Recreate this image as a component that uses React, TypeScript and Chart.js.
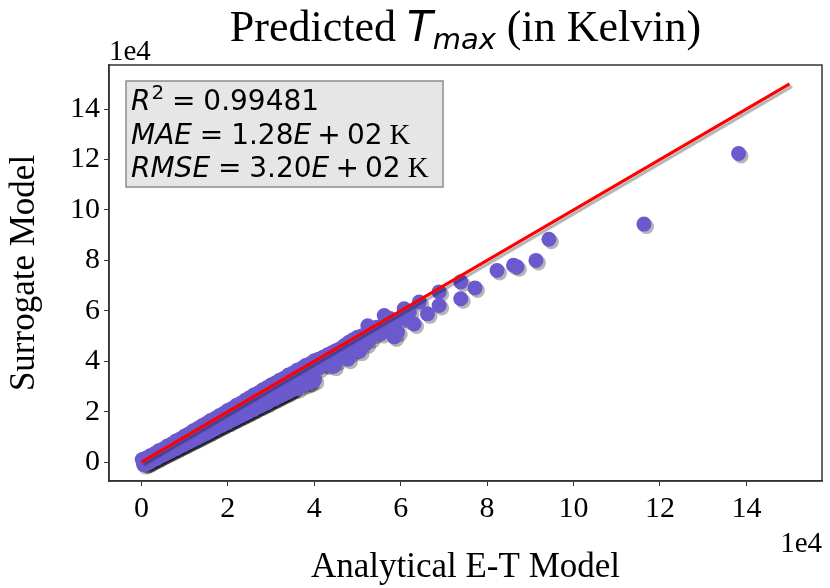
import React, { useEffect, useRef } from "react";
import { Chart, registerables } from "chart.js";

Chart.register(...registerables);

// ---- data (units of 1e4 K) ----
const X_TICKS = [0, 2, 4, 6, 8, 10, 12, 14];
const Y_TICKS = [0, 2, 4, 6, 8, 10, 12, 14];
const AXIS_MIN = -0.75;
const AXIS_MAX = 15.75;

const LINE_X = [0, 15];
const LINE_Y = [0, 15];

// surrogate vs analytical predictions (upper edge of the band)
const UPPER_X = [0.02, 0.1, 0.2, 0.3, 0.4, 0.5, 0.6, 0.7, 0.8, 0.9, 1.0, 1.1, 1.2, 1.3, 1.4, 1.5, 1.6, 1.7, 1.8, 1.9, 2.0, 2.1, 2.2, 2.3, 2.4, 2.5, 2.6, 2.7, 2.8, 2.9, 3.0, 3.1, 3.2, 3.3, 3.4, 3.5, 3.6, 3.7, 3.8, 3.9, 4.0, 4.1, 4.2, 4.3, 4.4, 4.5];
const UPPER_Y = [0.1, 0.15, 0.25, 0.33, 0.45, 0.52, 0.64, 0.72, 0.84, 0.92, 1.03, 1.12, 1.24, 1.33, 1.44, 1.53, 1.65, 1.73, 1.84, 1.93, 2.05, 2.13, 2.25, 2.33, 2.45, 2.55, 2.66, 2.74, 2.86, 2.95, 3.06, 3.14, 3.25, 3.33, 3.45, 3.52, 3.64, 3.71, 3.83, 3.9, 4.02, 4.08, 4.16, 4.25, 4.33, 4.42];

// lower edge of the band
const LOWER_X = [0.1, 0.2, 0.3, 0.4, 0.5, 0.6, 0.7, 0.8, 0.9, 1.0, 1.1, 1.2, 1.3, 1.4, 1.5, 1.6, 1.7, 1.8, 1.9, 2.0, 2.1, 2.2, 2.3, 2.4, 2.5, 2.6, 2.7, 2.8, 2.9, 3.0, 3.1, 3.2, 3.3, 3.4, 3.5, 3.6, 3.7, 3.8, 3.9, 4.0];
const LOWER_Y = [-0.05, 0.02, 0.12, 0.2, 0.3, 0.38, 0.47, 0.55, 0.65, 0.72, 0.82, 0.9, 0.98, 1.08, 1.15, 1.24, 1.32, 1.42, 1.5, 1.58, 1.68, 1.76, 1.85, 1.93, 2.02, 2.1, 2.2, 2.27, 2.35, 2.46, 2.52, 2.62, 2.7, 2.78, 2.88, 2.92, 3.03, 3.1, 3.16, 3.25];

// densely packed lowest row (0 - 3.5e4)
const DENSE_X = [0.05, 0.1, 0.15, 0.2, 0.25, 0.3, 0.35, 0.4, 0.45, 0.5, 0.55, 0.6, 0.65, 0.7, 0.75, 0.8, 0.85, 0.9, 0.95, 1.0, 1.05, 1.1, 1.15, 1.2, 1.25, 1.3, 1.35, 1.4, 1.45, 1.5, 1.55, 1.6, 1.65, 1.7, 1.75, 1.8, 1.85, 1.9, 1.95, 2.0, 2.05, 2.1, 2.15, 2.2, 2.25, 2.3, 2.35, 2.4, 2.45, 2.5, 2.55, 2.6, 2.65, 2.7, 2.75, 2.8, 2.85, 2.9, 2.95, 3.0, 3.05, 3.1, 3.15, 3.2, 3.25, 3.3, 3.35, 3.4, 3.45, 3.5];
const DENSE_Y = [-0.1, -0.06, -0.03, 0.02, 0.08, 0.11, 0.14, 0.2, 0.25, 0.28, 0.33, 0.38, 0.41, 0.46, 0.51, 0.54, 0.59, 0.64, 0.67, 0.72, 0.77, 0.8, 0.85, 0.9, 0.93, 0.98, 1.03, 1.06, 1.11, 1.16, 1.19, 1.24, 1.3, 1.32, 1.37, 1.43, 1.45, 1.5, 1.56, 1.58, 1.63, 1.69, 1.71, 1.76, 1.82, 1.84, 1.89, 1.95, 1.97, 2.02, 2.08, 2.1, 2.16, 2.21, 2.23, 2.29, 2.34, 2.36, 2.42, 2.46, 2.49, 2.55, 2.6, 2.62, 2.68, 2.73, 2.75, 2.81, 2.86, 2.89];

// middle of the band
const MID_X = [2.5, 2.7, 2.9, 3.1, 3.3, 3.5, 3.7, 3.9, 4.1, 4.3, 4.5];
const MID_Y = [2.3, 2.48, 2.66, 2.84, 3.02, 3.2, 3.38, 3.55, 3.72, 3.85, 4.0];

// scattered region and outliers
const SPREAD_X = [3.86, 3.95, 4.25, 4.4, 4.45, 4.55, 4.6, 4.65, 4.7, 4.7, 4.78, 4.8, 4.85, 4.9, 4.93, 5.0, 5.0, 5.05, 5.1, 5.15, 5.2, 5.24, 5.25, 5.3, 5.3, 5.39, 5.45, 5.5, 5.55, 5.62, 5.7, 5.75, 5.8, 5.85, 5.93, 6.0, 6.08, 6.15, 6.2, 6.31, 6.43, 6.62, 6.89, 6.89, 7.39, 7.39, 7.72, 8.23, 8.61, 8.69, 9.13, 9.43, 11.63, 13.82];
const SPREAD_Y = [3.15, 3.4, 3.88, 4.1, 3.8, 4.21, 4.5, 4.3, 4.62, 4.4, 4.08, 4.75, 4.35, 4.85, 4.48, 4.95, 4.6, 4.4, 5.0, 4.85, 4.7, 5.41, 5.15, 5.25, 4.9, 5.08, 5.35, 5.3, 5.1, 5.81, 5.5, 5.7, 5.3, 4.96, 5.16, 5.7, 6.08, 5.65, 5.95, 5.48, 6.35, 5.88, 6.75, 6.21, 7.15, 6.48, 6.91, 7.6, 7.81, 7.75, 8.0, 8.84, 9.44, 12.24];

const TITLE_MAIN = "Predicted ";
const TITLE_VAR = "T";
const TITLE_SUB = "max";
const TITLE_END = " (in Kelvin)";
const X_LABEL = "Analytical E-T Model";
const Y_LABEL = "Surrogate Model";
const OFFSET_TEXT = "1e4";

const SERIF = "'Liberation Serif', 'Times New Roman', serif";
const SANS = "'DejaVu Sans', sans-serif";
const POINT_R = 7.5;

type Run = { t: string; font: string; dy?: number; gap?: number };

function drawRuns(ctx: CanvasRenderingContext2D, runs: Run[], x: number, y: number, measureOnly = false): number {
  let cx = x;
  for (const r of runs) {
    ctx.font = r.font;
    if (!measureOnly) ctx.fillText(r.t, cx, y + (r.dy || 0));
    cx += ctx.measureText(r.t).width + (r.gap || 0);
  }
  return cx - x;
}

function pts(xs: number[], ys: number[]) {
  return xs.map((x, i) => ({ x, y: ys[i] }));
}

const shadowPlugin = {
  id: "shadowPlugin",
  beforeDatasetDraw(chart: any, args: any) {
    const ctx: CanvasRenderingContext2D = chart.ctx;
    ctx.save();
    if (args.index === 0) {
      ctx.shadowColor = "rgba(0,0,0,0.3)";
      ctx.shadowOffsetX = 2.5;
      ctx.shadowOffsetY = 2.5;
      ctx.shadowBlur = 1;
    } else {
      // collection shadow drawn first, beneath all markers
      const meta = chart.getDatasetMeta(args.index);
      ctx.fillStyle = "rgba(10,10,20,0.3)";
      for (const el of meta.data) {
        ctx.beginPath();
        ctx.arc(el.x + 2.5, el.y + 2.5, POINT_R, 0, Math.PI * 2);
        ctx.fill();
      }
    }
  },
  afterDatasetDraw(chart: any) {
    chart.ctx.restore();
  },
};

const overlayPlugin = {
  id: "overlayPlugin",
  afterDraw(chart: any) {
    const ctx: CanvasRenderingContext2D = chart.ctx;
    const a = chart.chartArea;
    ctx.save();
    // frame
    ctx.strokeStyle = "#333";
    ctx.lineWidth = 1.5;
    ctx.strokeRect(a.left, a.top, a.right - a.left, a.bottom - a.top);

    ctx.fillStyle = "#000";
    ctx.textBaseline = "alphabetic";
    ctx.textAlign = "left";

    // title
    const titleRuns: Run[] = [
      { t: TITLE_MAIN, font: `44px ${SERIF}` },
      { t: TITLE_VAR, font: `oblique 42px ${SANS}` },
      { t: TITLE_SUB, font: `oblique 29px ${SANS}`, dy: 8 },
      { t: TITLE_END, font: `44px ${SERIF}` },
    ];
    const tw = drawRuns(ctx, titleRuns, 0, 0, true);
    const cx = (a.left + a.right) / 2;
    drawRuns(ctx, titleRuns, cx - tw / 2, 41);

    // axis labels
    ctx.font = `35px ${SERIF}`;
    ctx.textAlign = "center";
    ctx.fillText(X_LABEL, cx, 577);
    ctx.save();
    ctx.translate(34, (a.top + a.bottom) / 2);
    ctx.rotate(-Math.PI / 2);
    ctx.fillText(Y_LABEL, 0, 0);
    ctx.restore();

    // offset texts
    ctx.font = `29px ${SERIF}`;
    ctx.textAlign = "left";
    ctx.fillText(OFFSET_TEXT, a.left, a.top - 5);
    ctx.textAlign = "right";
    ctx.fillText(OFFSET_TEXT, a.right, 552);

    // stats box
    const bx = 126, by = 81, bw = 317, bh = 106;
    ctx.fillStyle = "#e6e6e6";
    ctx.fillRect(bx, by, bw, bh);
    ctx.strokeStyle = "#8c8c8c";
    ctx.lineWidth = 1.5;
    ctx.strokeRect(bx, by, bw, bh);
    ctx.fillStyle = "#000";
    ctx.textAlign = "left";
    const fs = 28;
    const it = `oblique ${fs}px ${SANS}`;
    const rm = `${fs}px ${SANS}`;
    const sup = `${Math.round(fs * 0.7)}px ${SANS}`;
    const kf = `${fs + 1}px ${SERIF}`;
    const rel = fs * 0.28;
    const bin = fs * 0.22;
    const line1: Run[] = [
      { t: "R", font: it, gap: 1 },
      { t: "2", font: sup, dy: -11, gap: rel },
      { t: "=", font: rm, gap: rel },
      { t: "0.99481", font: rm },
    ];
    const line2: Run[] = [
      { t: "MAE", font: it, gap: rel },
      { t: "=", font: rm, gap: rel },
      { t: "1.28", font: rm },
      { t: "E", font: it, gap: bin },
      { t: "+", font: rm, gap: bin },
      { t: "02", font: rm, gap: fs * 0.25 },
      { t: "K", font: kf },
    ];
    const line3: Run[] = [
      { t: "RMSE", font: it, gap: rel },
      { t: "=", font: rm, gap: rel },
      { t: "3.20", font: rm },
      { t: "E", font: it, gap: bin },
      { t: "+", font: rm, gap: bin },
      { t: "02", font: rm, gap: fs * 0.25 },
      { t: "K", font: kf },
    ];
    drawRuns(ctx, line1, 131, 110);
    drawRuns(ctx, line2, 131, 144);
    drawRuns(ctx, line3, 131, 177);
    ctx.restore();
  },
};

export default function App() {
  const ref = useRef<HTMLCanvasElement | null>(null);
  useEffect(() => {
    if (!ref.current) return;
    const tickFont = { family: SERIF, size: 30 };
    const chart = new Chart(ref.current, {
      type: "scatter",
      data: {
        datasets: [
          {
            type: "line",
            data: pts(LINE_X, LINE_Y),
            borderColor: "#ff0000",
            borderWidth: 3,
            pointRadius: 0,
            fill: false,
            order: 0,
          } as any,
          {
            data: [
              ...pts(DENSE_X, DENSE_Y),
              ...pts(LOWER_X, LOWER_Y),
              ...pts(MID_X, MID_Y),
              ...pts(UPPER_X, UPPER_Y),
              ...pts(SPREAD_X, SPREAD_Y),
            ],
            backgroundColor: "#6a5acd",
            borderWidth: 0,
            pointRadius: POINT_R,
            order: 1,
          },
        ],
      },
      options: {
        responsive: false,
        animation: false,
        layout: { padding: { top: 65, right: 8, left: 0, bottom: 0 } },
        plugins: { legend: { display: false }, tooltip: { enabled: false } },
        scales: {
          x: {
            type: "linear",
            min: AXIS_MIN,
            max: AXIS_MAX,
            afterBuildTicks: (s: any) => {
              s.ticks = X_TICKS.map((v) => ({ value: v }));
            },
            afterFit: (s: any) => {
              s.height = 107;
            },
            ticks: {
              font: tickFont,
              color: "#000",
              padding: 5,
              maxRotation: 0,
              autoSkip: false,
              callback: (v: any) => String(v),
            },
            grid: { display: true, drawOnChartArea: false, drawTicks: true, tickLength: 5, color: "#333" },
            border: { display: true, color: "#333", width: 1.5 },
          },
          y: {
            type: "linear",
            min: AXIS_MIN,
            max: AXIS_MAX,
            afterBuildTicks: (s: any) => {
              s.ticks = Y_TICKS.map((v) => ({ value: v }));
            },
            afterFit: (s: any) => {
              s.width = 109;
            },
            ticks: {
              font: tickFont,
              color: "#000",
              padding: 4,
              autoSkip: false,
              callback: (v: any) => String(v),
            },
            grid: { display: true, drawOnChartArea: false, drawTicks: true, tickLength: 5, color: "#333" },
            border: { display: true, color: "#333", width: 1.5 },
          },
        },
      },
      plugins: [shadowPlugin, overlayPlugin],
    } as any);
    return () => chart.destroy();
  }, []);
  return (
    <div style={{ position: "absolute", left: 0, top: 0, width: 830, height: 588, background: "#fff" }}>
      <canvas ref={ref} width={830} height={588} style={{ display: "block", width: 830, height: 588 }} />
    </div>
  );
}
